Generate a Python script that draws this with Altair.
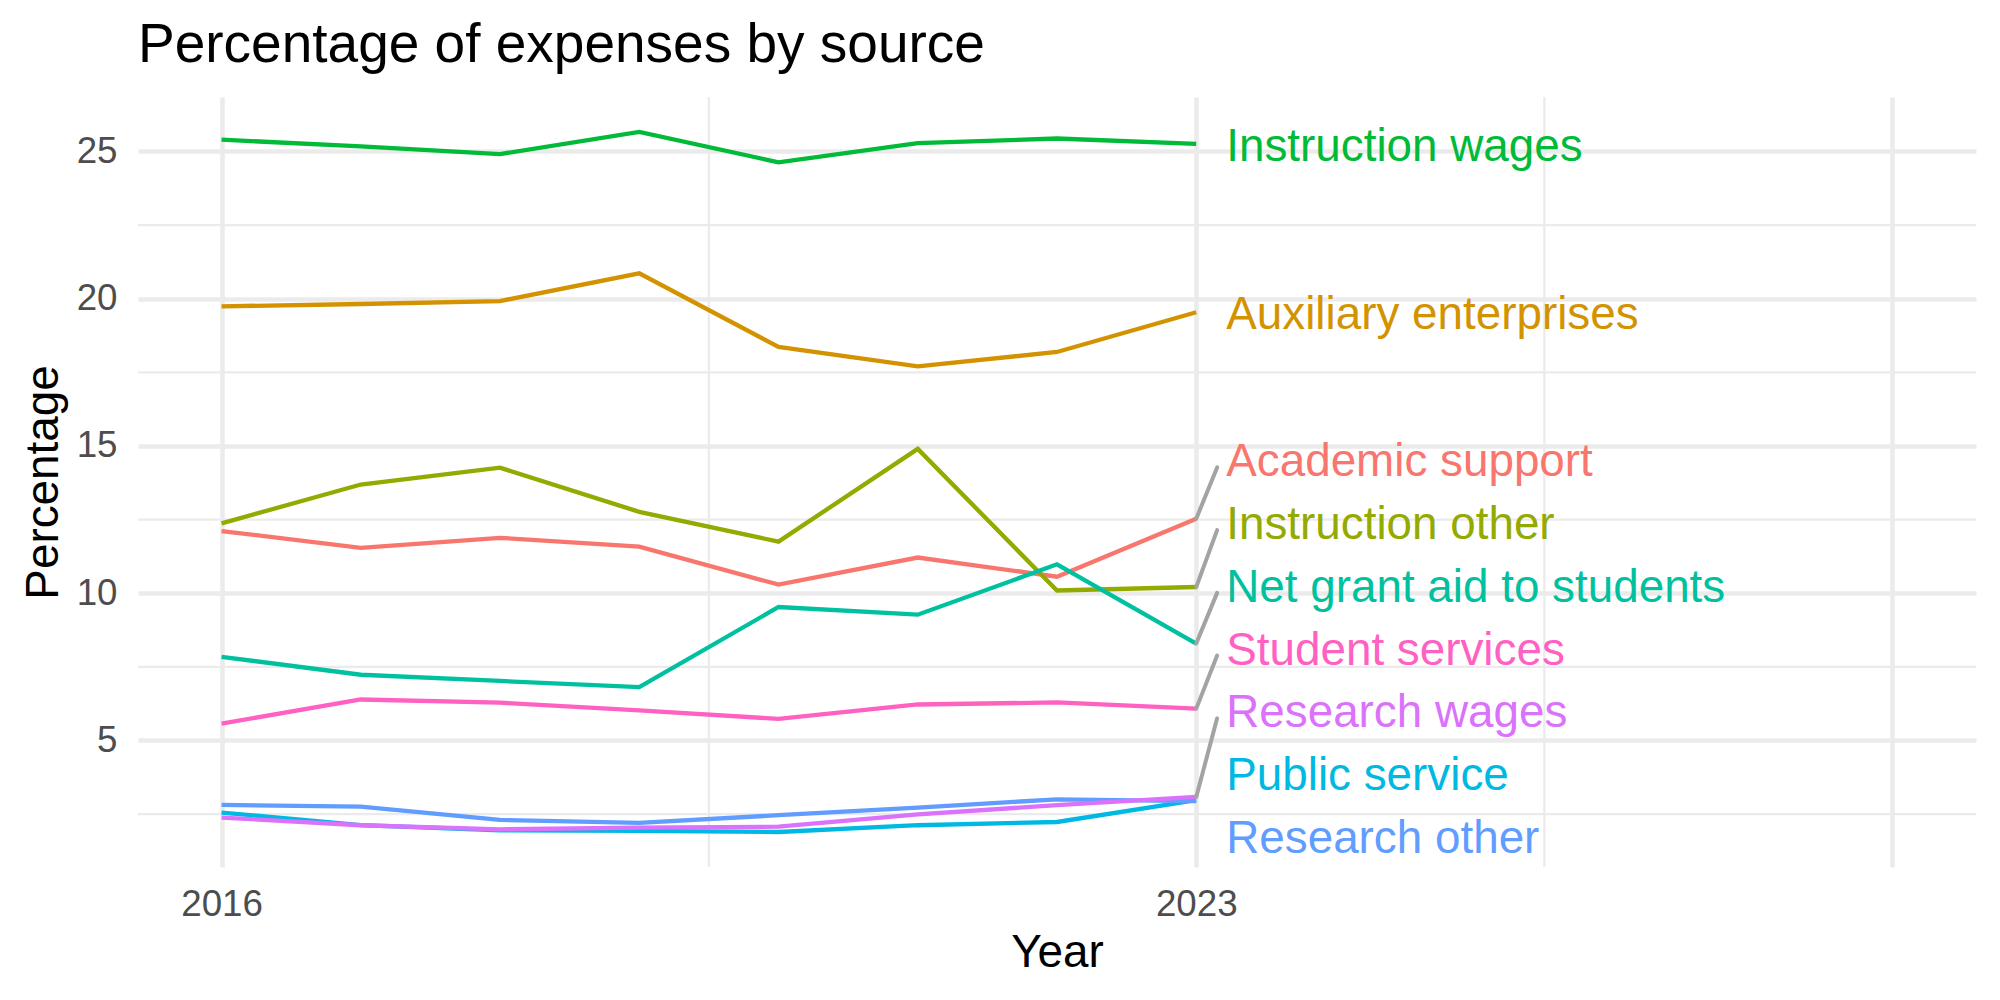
import altair as alt
import pandas as pd

# ---------------- data ----------------
years = [2016, 2017, 2018, 2019, 2020, 2021, 2022, 2023]
categories = [
    "Academic support", "Auxiliary enterprises", "Instruction other",
    "Instruction wages", "Net grant aid to students", "Public service",
    "Research other", "Research wages", "Student services",
]
academic_support = [12.11, 11.54, 11.88, 11.58, 10.29, 11.21, 10.56, 12.53]
auxiliary_enterprises = [19.74, 19.82, 19.92, 20.86, 18.36, 17.70, 18.19, 19.54]
instruction_other = [12.37, 13.69, 14.26, 12.76, 11.75, 14.90, 10.09, 10.21]
instruction_wages = [25.40, 25.17, 24.91, 25.66, 24.63, 25.28, 25.44, 25.26]
net_grant_aid = [7.84, 7.23, 7.02, 6.81, 9.53, 9.27, 10.98, 8.29]
public_service = [2.55, 2.12, 1.95, 1.93, 1.89, 2.12, 2.23, 2.97]
research_other = [2.81, 2.75, 2.30, 2.20, 2.46, 2.72, 3.00, 2.94]
research_wages = [2.38, 2.12, 1.98, 2.04, 2.07, 2.49, 2.80, 3.08]
student_services = [5.57, 6.39, 6.28, 6.02, 5.73, 6.22, 6.29, 6.08]

palette = ["#F8766D", "#D39200", "#93AA00", "#00BA38", "#00C19F",
           "#00B9E3", "#619CFF", "#DB72FB", "#FF61C3"]

x_breaks = [2016, 2023, 2028]
x_minor = [2019.5, 2025.5]
y_breaks = [5, 10, 15, 20, 25]
y_minor = [2.5, 7.5, 12.5, 17.5, 22.5]

series = dict(zip(categories, [
    academic_support, auxiliary_enterprises, instruction_other,
    instruction_wages, net_grant_aid, public_service,
    research_other, research_wages, student_services,
]))

rows = []
for name, vals in series.items():
    for yr, v in zip(years, vals):
        rows.append({"year": yr, "pct": v, "source": name})
df = pd.DataFrame(rows)

# scale limits (ggplot-like 5% expansion)
all_vals = df["pct"]
y_rng = all_vals.max() - all_vals.min()
y_lo, y_hi = all_vals.min() - 0.05 * y_rng, all_vals.max() + 0.05 * y_rng
x_rng = x_breaks[-1] - x_breaks[0]
x_lo, x_hi = x_breaks[0] - 0.05 * x_rng, x_breaks[-1] + 0.05 * x_rng

# ---------------- simple label repel (cluster layout) ----------------
gap = 2.13
floor = 1.76
ends = sorted([(vals[-1], name) for name, vals in series.items()])
clusters = [[e] for e in ends]


def place(cl):
    c = sum(v for v, _ in cl) / len(cl)
    n = len(cl)
    pos = [c + (i - (n - 1) / 2) * gap for i in range(n)]
    shift = max(0.0, floor - pos[0])
    return [p + shift for p in pos]


merged = True
while merged:
    merged = False
    for i in range(len(clusters) - 1):
        a = place(clusters[i])
        b = place(clusters[i + 1])
        if b[0] - a[-1] < gap:
            clusters[i] = clusters[i] + clusters[i + 1]
            del clusters[i + 1]
            merged = True
            break

lab_rows = []
seg_rows = []
last_year = years[-1]
for cl in clusters:
    for (end, name), pos in zip(cl, place(cl)):
        lab_rows.append({"year": last_year, "pos": pos, "source": name})
        if abs(pos - end) > 1.5:
            seg_rows.append({"x": last_year, "y": end,
                             "x2": last_year + 0.15, "y2": pos - 0.27})
labels_df = pd.DataFrame(lab_rows)
seg_df = pd.DataFrame(seg_rows)

# ---------------- chart ----------------
FONT = "Liberation Sans"
W, H = 1838, 770

x_scale = alt.Scale(domain=[x_lo, x_hi], nice=False, zero=False)
y_scale = alt.Scale(domain=[y_lo, y_hi], nice=False, zero=False)
color_scale = alt.Scale(domain=categories, range=palette)

x_axis = alt.Axis(values=x_breaks, format="d", title="Year",
                  labelExpr="datum.value == 2028 ? '' : datum.label",
                  labelPadding=19, labelFlush=False, labelOverlap=False,
                  titleX=W / 2, titleY=99, titleBaseline="alphabetic")
y_axis = alt.Axis(values=y_breaks, title="Percentage", labelPadding=21,
                  labelOverlap=False, titleX=-81, titleY=H / 2,
                  titleBaseline="alphabetic", titleAngle=270)

minor_x = alt.Chart(pd.DataFrame({"v": x_minor})).mark_rule(
    color="#EBEBEB", strokeWidth=2.25
).encode(x=alt.X("v:Q", scale=x_scale, axis=x_axis))

minor_y = alt.Chart(pd.DataFrame({"v": y_minor})).mark_rule(
    color="#EBEBEB", strokeWidth=2.25
).encode(y=alt.Y("v:Q", scale=y_scale, axis=y_axis))

lines = alt.Chart(df).mark_line(strokeWidth=4.3).encode(
    x=alt.X("year:Q", scale=x_scale, axis=x_axis),
    y=alt.Y("pct:Q", scale=y_scale, axis=y_axis),
    color=alt.Color("source:N", scale=color_scale, legend=None),
    detail="source:N",
)

segs = alt.Chart(seg_df).mark_rule(color="#A3A3A3", strokeWidth=4,
                                   strokeCap="round").encode(
    x=alt.X("x:Q", scale=x_scale, axis=x_axis),
    y=alt.Y("y:Q", scale=y_scale, axis=y_axis),
    x2="x2:Q",
    y2="y2:Q",
)

texts = alt.Chart(labels_df).mark_text(
    align="left", baseline="middle", dx=30, dy=3, fontSize=45.8, font=FONT
).encode(
    x=alt.X("year:Q", scale=x_scale, axis=x_axis),
    y=alt.Y("pos:Q", scale=y_scale, axis=y_axis),
    color=alt.Color("source:N", scale=color_scale, legend=None),
    text="source:N",
)

chart = alt.layer(minor_x, minor_y, lines, segs, texts).properties(
    width=W,
    height=H,
    autosize=alt.AutoSizeParams(type="none"),
    padding={"left": 138, "top": 97, "right": 24, "bottom": 133},
    background="white",
    title=alt.TitleParams(
        "Percentage of expenses by source", anchor="start", frame="group",
        fontSize=55, font=FONT, fontWeight="normal", color="black",
        baseline="alphabetic", offset=33, dy=54,
    ),
).configure_view(stroke=None).configure_axis(
    domain=False, ticks=False, tickSize=0,
    grid=True, gridColor="#EBEBEB", gridWidth=4.5,
    labelFont=FONT, labelFontSize=36.7, labelColor="#4D4D4D",
    titleFont=FONT, titleFontSize=45.8, titleColor="black",
    titleFontWeight="normal",
)

chart.save("out.html", embed_options={"renderer": "svg", "actions": False})
